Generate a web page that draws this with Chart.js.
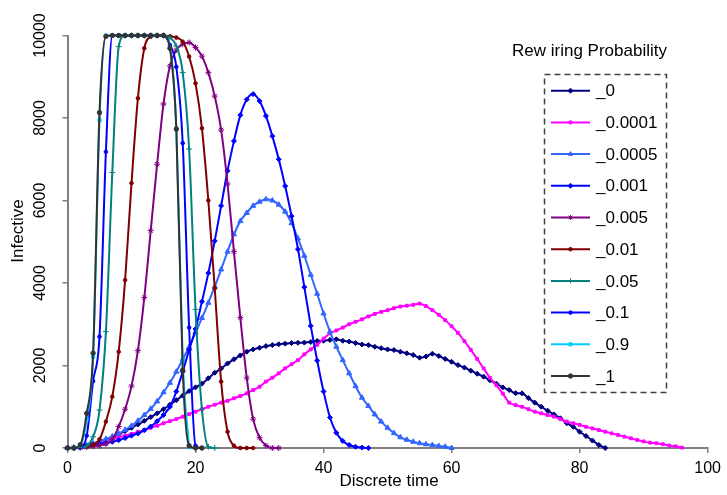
<!DOCTYPE html>
<html><head><meta charset="utf-8">
<script src="https://cdn.jsdelivr.net/npm/chart.js@4/dist/chart.umd.min.js"></script>
<style>html,body{margin:0;padding:0;background:#fff;}#wrap{width:727px;height:495px;position:relative;}</style>
</head><body><div id="wrap"><canvas id="c" width="727" height="495"></canvas></div>
<script>
// ---- data (value at each discrete time step 0,1,2,...) ----
const seriesLabels = ['_0','_0.0001','_0.0005','_0.001','_0.005','_0.01','_0.05','_0.1','_0.9','_1'];
const p0 = [0,10,30,60,100,150,200,260,330,410,490,570,660,750,840,940,1050,1160,1270,1380,1470,1560,1690,1825,1925,2050,2150,2245,2335,2390,2430,2470,2495,2515,2530,2545,2550,2555,2570,2595,2600,2620,2635,2600,2580,2545,2510,2495,2455,2420,2390,2375,2335,2295,2255,2190,2220,2285,2230,2160,2090,2010,1950,1875,1800,1730,1640,1560,1470,1405,1330,1325,1210,1100,1000,905,815,720,600,515,395,290,180,75,0];
const p00001 = [0,10,30,60,100,140,180,220,260,300,340,390,440,490,540,600,650,700,760,820,880,940,1000,1050,1100,1145,1205,1260,1325,1405,1485,1610,1705,1810,1930,2030,2130,2270,2390,2500,2650,2780,2850,2920,3000,3060,3120,3190,3250,3300,3340,3390,3430,3450,3470,3500,3440,3340,3230,3100,2950,2790,2590,2380,2160,1930,1700,1520,1320,1100,1040,1000,940,880,840,800,760,700,640,600,560,515,475,435,395,355,315,275,235,195,160,130,115,90,60,40,10];
const p00005 = [0,10,30,60,110,160,220,280,350,440,540,660,800,950,1130,1350,1580,1850,2150,2450,2800,3150,3520,3910,4330,4760,5180,5500,5700,5870,5970,6030,6000,5900,5730,5450,5080,4660,4200,3740,3260,2820,2455,2130,1810,1500,1220,1020,815,640,490,360,260,200,150,115,90,70,50,30,0];
const p0001 = [0,0,20,50,80,100,120,150,190,240,300,350,430,520,650,800,1000,1370,1850,2380,2885,3550,4240,5020,5870,6720,7440,8070,8450,8580,8410,8050,7560,7000,6350,5620,4820,3900,2960,2120,1370,740,370,170,73,30,10,0];
const p0005 = [0,0,10,20,40,60,100,210,520,940,1500,2360,3650,5270,6880,8340,9260,9650,9790,9830,9710,9500,9100,8530,7710,6400,4760,3160,1700,700,250,60,0,0];
const p001 = [0,0,10,30,80,210,640,1245,2335,4070,6420,8480,9690,9970,10000,10000,9980,9950,9850,9490,8840,7750,6000,3870,1610,395,55,0,0,0];
const p005 = [0,0,10,50,270,920,2820,6680,9730,10000,10000,10000,10000,10000,10000,10000,9950,9745,9100,7250,3360,940,30,0];
const p01 = [0,0,20,300,1620,2700,7180,10000,10000,10000,10000,10000,10000,10000,10000,10000,9770,9240,7390,2920,55,0];
const p09 = [0,0,60,700,2210,7950,10000,10000,10000,10000,10000,10000,10000,10000,10000,10000,9700,7750,2130,20];
const p1 = [0,0,80,840,2300,8130,9980,10000,10000,10000,10000,10000,10000,10000,10000,10000,9690,7730,1890,55,0,0];
const xTickLabels = ['0','20','40','60','80','100'];
const yTickLabels = ['0','2000','4000','6000','8000','10000'];
const xTitle = 'Discrete time';
const yTitle = 'Infective';
const legendTitle = 'Rew iring Probability';

const seriesValues = [p0,p00001,p00005,p0001,p0005,p001,p005,p01,p09,p1];
const colors = ['#000080','#FF00FF','#3366FF','#0000FF','#800080','#800000','#008080','#0000FF','#00CCFF','#333333'];
const styles = ['rectRot','rect','triangle','rectRot','star','circle','cross','circle','rect','circle'];
const radii = [2.5,2,3,2.5,3,1.8,3,1.8,2.2,2.2];

const FONT = "'Liberation Sans', Arial, sans-serif";

const datasets = seriesValues.map((vals, k) => ({
  label: seriesLabels[k],
  data: vals.map((v, i) => ({x: i, y: v})),
  borderColor: colors[k],
  backgroundColor: colors[k],
  pointBorderColor: colors[k],
  pointBackgroundColor: colors[k],
  pointStyle: styles[k],
  pointRadius: radii[k],
  pointBorderWidth: 1,
  borderWidth: 2,
  cubicInterpolationMode: 'monotone',
  clip: false,
  order: seriesValues.length - k
}));

const decor = {
  id: 'decor',
  afterDraw(chart) {
    const ctx = chart.ctx;
    const ys = chart.scales.y;
    ctx.save();
    ctx.fillStyle = '#000';
    // y tick labels (rotated)
    ctx.font = '16px ' + FONT;
    ctx.textAlign = 'center';
    ctx.textBaseline = 'middle';
    ys.ticks.forEach((t, i) => {
      const py = ys.getPixelForValue(t.value);
      ctx.save();
      ctx.translate(41, py);
      ctx.rotate(-Math.PI / 2);
      ctx.fillText(yTickLabels[i], 0, 0);
      ctx.restore();
    });
    // y title
    ctx.font = '17px ' + FONT;
    ctx.save();
    ctx.translate(18, 231);
    ctx.rotate(-Math.PI / 2);
    ctx.fillText(yTitle, 0, 0);
    ctx.restore();
    // x title
    ctx.fillText(xTitle, 389, 481);
    // legend
    ctx.font = '17px ' + FONT;
    ctx.fillText(legendTitle, 589.5, 51);
    ctx.strokeStyle = '#404040';
    ctx.lineWidth = 1.5;
    ctx.setLineDash([6, 4]);
    ctx.strokeRect(544.5, 74.5, 122, 318);
    ctx.setLineDash([]);
    chart.data.datasets.forEach((ds, i) => {
      const y = 90.7 + i * 31.7;
      ctx.strokeStyle = ds.borderColor;
      ctx.lineWidth = 2;
      ctx.beginPath(); ctx.moveTo(551, y); ctx.lineTo(590, y); ctx.stroke();
      ctx.fillStyle = ds.borderColor;
      ctx.lineWidth = 1;
      if (Chart.helpers && Chart.helpers.drawPoint) {
        Chart.helpers.drawPoint(ctx, {pointStyle: ds.pointStyle, radius: Math.min(ds.pointRadius, 2.5), borderWidth: 1, rotation: 0}, 570.5, y);
      }
      ctx.fillStyle = '#000';
      ctx.textAlign = 'left';
      ctx.fillText(ds.label, 596, y + 1);
    });
    ctx.restore();
  }
};

new Chart(document.getElementById('c'), {
  type: 'line',
  data: { datasets },
  options: {
    responsive: false,
    animation: false,
    devicePixelRatio: 1,
    layout: { padding: { top: 35.5, right: 17.5, left: 0, bottom: 0 } },
    plugins: { legend: { display: false }, tooltip: { enabled: false } },
    scales: {
      x: {
        type: 'linear', min: 0, max: 100,
        ticks: { stepSize: 20, color: '#000', font: { family: FONT, size: 16 }, padding: 6, maxRotation: 0,
                 callback: (v, i) => xTickLabels[i] },
        grid: { drawOnChartArea: false, drawTicks: true, tickLength: 5, color: '#808080', lineWidth: 1.5 },
        border: { color: '#808080', width: 2 },
        afterFit: s => { s.height = 47; }
      },
      y: {
        type: 'linear', min: 0, max: 10000,
        ticks: { stepSize: 2000, display: false },
        grid: { drawOnChartArea: false, drawTicks: true, tickLength: 5, color: '#808080', lineWidth: 1.5 },
        border: { color: '#808080', width: 2 },
        afterFit: s => { s.width = 67.5; }
      }
    }
  },
  plugins: [decor]
});
</script></body></html>
